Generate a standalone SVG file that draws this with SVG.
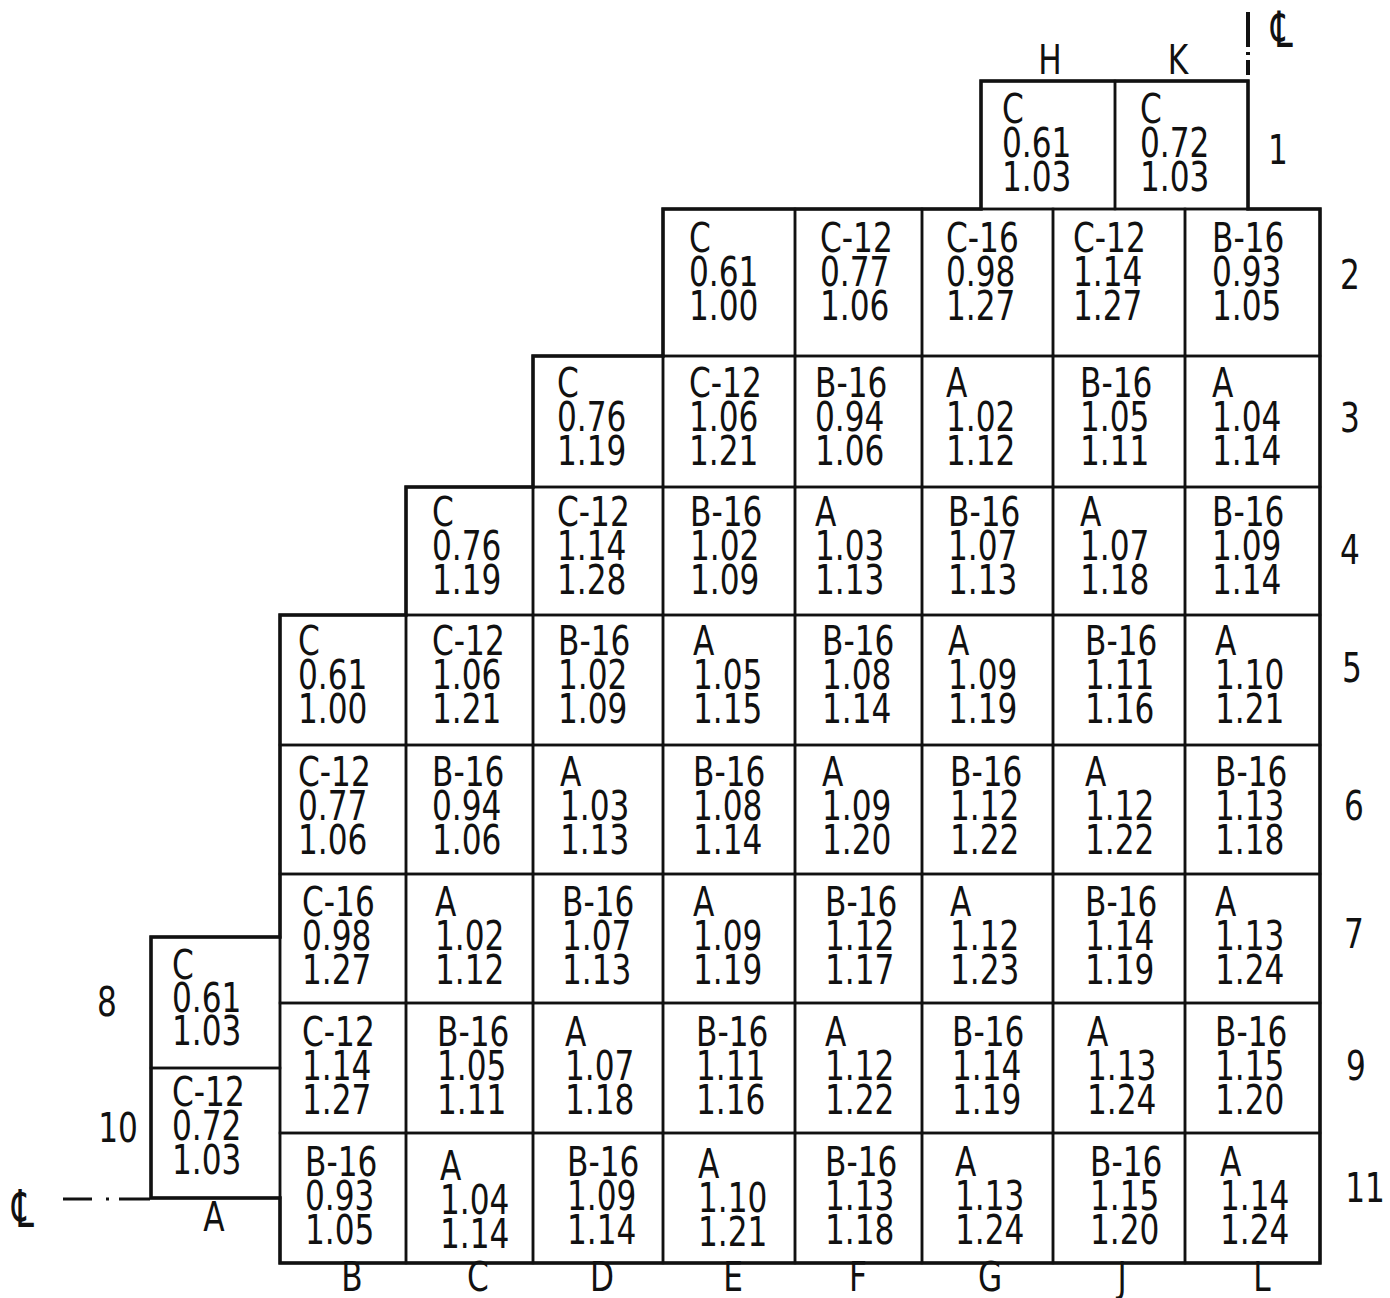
<svg xmlns="http://www.w3.org/2000/svg" width="1390" height="1298" viewBox="0 0 1390 1298">
<style>
.c{fill:none;stroke:#111;stroke-width:2.5}
.o{fill:none;stroke:#111;stroke-width:3.5;stroke-linejoin:miter}
text{font-family:"DejaVu Sans","Liberation Sans",sans-serif;font-size:40px;fill:#111}
.m{text-anchor:middle}
.cl{stroke:#111;fill:none}
</style>
<rect width="1390" height="1298" fill="#fff"/>
<g id="connectors">
<path class="cl" stroke-width="4" d="M1248 12V47M1248 52V55M1248 60V75"/>
<path class="cl" stroke-width="3" d="M63 1199H92M106 1199H109M119 1199H150"/>
</g>
<g id="labels">
<text class="m" transform="translate(1050,74) scale(0.78,1)">H</text>
<text class="m" transform="translate(1178,74) scale(0.78,1)">K</text>
<text class="m" transform="translate(1282,47) scale(0.85,1.25)">℄</text>
<text class="m" transform="translate(23,1227) scale(0.85,1.3)">℄</text>
<text class="m" transform="translate(214,1231) scale(0.78,1)">A</text>
<text class="m" transform="translate(352,1291) scale(0.78,1)">B</text>
<text class="m" transform="translate(478,1291) scale(0.78,1)">C</text>
<text class="m" transform="translate(602,1291) scale(0.78,1)">D</text>
<text class="m" transform="translate(733,1291) scale(0.78,1)">E</text>
<text class="m" transform="translate(858,1291) scale(0.78,1)">F</text>
<text class="m" transform="translate(990,1291) scale(0.78,1)">G</text>
<text class="m" transform="translate(1122,1291) scale(0.78,1)">J</text>
<text class="m" transform="translate(1262,1291) scale(0.78,1)">L</text>
<text class="m" transform="translate(1278,164) scale(0.78,1)">1</text>
<text class="m" transform="translate(1350,289) scale(0.78,1)">2</text>
<text class="m" transform="translate(1350,432) scale(0.78,1)">3</text>
<text class="m" transform="translate(1350,564) scale(0.78,1)">4</text>
<text class="m" transform="translate(1352,682) scale(0.78,1)">5</text>
<text class="m" transform="translate(1354,820) scale(0.78,1)">6</text>
<text class="m" transform="translate(1354,948) scale(0.78,1)">7</text>
<text class="m" transform="translate(1356,1080) scale(0.78,1)">9</text>
<text class="m" transform="translate(1365,1202) scale(0.78,1)">11</text>
<text class="m" transform="translate(107,1016) scale(0.78,1)">8</text>
<text class="m" transform="translate(118,1142) scale(0.78,1)">10</text>
</g>

<g id="H1"><rect class="c" x="981" y="81" width="134" height="128"/><text transform="translate(1002,123) scale(0.78,1)"><tspan x="0" y="0">C</tspan><tspan x="0" y="34">0.61</tspan><tspan x="0" y="68">1.03</tspan></text></g>
<g id="K1"><rect class="c" x="1115" y="81" width="133" height="128"/><text transform="translate(1140,123) scale(0.78,1)"><tspan x="0" y="0">C</tspan><tspan x="0" y="34">0.72</tspan><tspan x="0" y="68">1.03</tspan></text></g>

<g id="E2"><rect class="c" x="663" y="209" width="132" height="147"/><text transform="translate(689,252) scale(0.78,1)"><tspan x="0" y="0">C</tspan><tspan x="0" y="34">0.61</tspan><tspan x="0" y="68">1.00</tspan></text></g>
<g id="F2"><rect class="c" x="795" y="209" width="127" height="147"/><text transform="translate(820,252) scale(0.78,1)"><tspan x="0" y="0">C-12</tspan><tspan x="0" y="34">0.77</tspan><tspan x="0" y="68">1.06</tspan></text></g>
<g id="G2"><rect class="c" x="922" y="209" width="131" height="147"/><text transform="translate(946,252) scale(0.78,1)"><tspan x="0" y="0">C-16</tspan><tspan x="0" y="34">0.98</tspan><tspan x="0" y="68">1.27</tspan></text></g>
<g id="J2"><rect class="c" x="1053" y="209" width="132" height="147"/><text transform="translate(1073,252) scale(0.78,1)"><tspan x="0" y="0">C-12</tspan><tspan x="0" y="34">1.14</tspan><tspan x="0" y="68">1.27</tspan></text></g>
<g id="L2"><rect class="c" x="1185" y="209" width="135" height="147"/><text transform="translate(1212,252) scale(0.78,1)"><tspan x="0" y="0">B-16</tspan><tspan x="0" y="34">0.93</tspan><tspan x="0" y="68">1.05</tspan></text></g>

<g id="D3"><rect class="c" x="533" y="356" width="130" height="131"/><text transform="translate(557,397) scale(0.78,1)"><tspan x="0" y="0">C</tspan><tspan x="0" y="34">0.76</tspan><tspan x="0" y="68">1.19</tspan></text></g>
<g id="E3"><rect class="c" x="663" y="356" width="132" height="131"/><text transform="translate(689,397) scale(0.78,1)"><tspan x="0" y="0">C-12</tspan><tspan x="0" y="34">1.06</tspan><tspan x="0" y="68">1.21</tspan></text></g>
<g id="F3"><rect class="c" x="795" y="356" width="127" height="131"/><text transform="translate(815,397) scale(0.78,1)"><tspan x="0" y="0">B-16</tspan><tspan x="0" y="34">0.94</tspan><tspan x="0" y="68">1.06</tspan></text></g>
<g id="G3"><rect class="c" x="922" y="356" width="131" height="131"/><text transform="translate(946,397) scale(0.78,1)"><tspan x="0" y="0">A</tspan><tspan x="0" y="34">1.02</tspan><tspan x="0" y="68">1.12</tspan></text></g>
<g id="J3"><rect class="c" x="1053" y="356" width="132" height="131"/><text transform="translate(1080,397) scale(0.78,1)"><tspan x="0" y="0">B-16</tspan><tspan x="0" y="34">1.05</tspan><tspan x="0" y="68">1.11</tspan></text></g>
<g id="L3"><rect class="c" x="1185" y="356" width="135" height="131"/><text transform="translate(1212,397) scale(0.78,1)"><tspan x="0" y="0">A</tspan><tspan x="0" y="34">1.04</tspan><tspan x="0" y="68">1.14</tspan></text></g>

<g id="C4"><rect class="c" x="406" y="487" width="127" height="128"/><text transform="translate(432,526) scale(0.78,1)"><tspan x="0" y="0">C</tspan><tspan x="0" y="34">0.76</tspan><tspan x="0" y="68">1.19</tspan></text></g>
<g id="D4"><rect class="c" x="533" y="487" width="130" height="128"/><text transform="translate(557,526) scale(0.78,1)"><tspan x="0" y="0">C-12</tspan><tspan x="0" y="34">1.14</tspan><tspan x="0" y="68">1.28</tspan></text></g>
<g id="E4"><rect class="c" x="663" y="487" width="132" height="128"/><text transform="translate(690,526) scale(0.78,1)"><tspan x="0" y="0">B-16</tspan><tspan x="0" y="34">1.02</tspan><tspan x="0" y="68">1.09</tspan></text></g>
<g id="F4"><rect class="c" x="795" y="487" width="127" height="128"/><text transform="translate(815,526) scale(0.78,1)"><tspan x="0" y="0">A</tspan><tspan x="0" y="34">1.03</tspan><tspan x="0" y="68">1.13</tspan></text></g>
<g id="G4"><rect class="c" x="922" y="487" width="131" height="128"/><text transform="translate(948,526) scale(0.78,1)"><tspan x="0" y="0">B-16</tspan><tspan x="0" y="34">1.07</tspan><tspan x="0" y="68">1.13</tspan></text></g>
<g id="J4"><rect class="c" x="1053" y="487" width="132" height="128"/><text transform="translate(1080,526) scale(0.78,1)"><tspan x="0" y="0">A</tspan><tspan x="0" y="34">1.07</tspan><tspan x="0" y="68">1.18</tspan></text></g>
<g id="L4"><rect class="c" x="1185" y="487" width="135" height="128"/><text transform="translate(1212,526) scale(0.78,1)"><tspan x="0" y="0">B-16</tspan><tspan x="0" y="34">1.09</tspan><tspan x="0" y="68">1.14</tspan></text></g>

<g id="B5"><rect class="c" x="280" y="615" width="126" height="130"/><text transform="translate(298,655) scale(0.78,1)"><tspan x="0" y="0">C</tspan><tspan x="0" y="34">0.61</tspan><tspan x="0" y="68">1.00</tspan></text></g>
<g id="C5"><rect class="c" x="406" y="615" width="127" height="130"/><text transform="translate(432,655) scale(0.78,1)"><tspan x="0" y="0">C-12</tspan><tspan x="0" y="34">1.06</tspan><tspan x="0" y="68">1.21</tspan></text></g>
<g id="D5"><rect class="c" x="533" y="615" width="130" height="130"/><text transform="translate(558,655) scale(0.78,1)"><tspan x="0" y="0">B-16</tspan><tspan x="0" y="34">1.02</tspan><tspan x="0" y="68">1.09</tspan></text></g>
<g id="E5"><rect class="c" x="663" y="615" width="132" height="130"/><text transform="translate(693,655) scale(0.78,1)"><tspan x="0" y="0">A</tspan><tspan x="0" y="34">1.05</tspan><tspan x="0" y="68">1.15</tspan></text></g>
<g id="F5"><rect class="c" x="795" y="615" width="127" height="130"/><text transform="translate(822,655) scale(0.78,1)"><tspan x="0" y="0">B-16</tspan><tspan x="0" y="34">1.08</tspan><tspan x="0" y="68">1.14</tspan></text></g>
<g id="G5"><rect class="c" x="922" y="615" width="131" height="130"/><text transform="translate(948,655) scale(0.78,1)"><tspan x="0" y="0">A</tspan><tspan x="0" y="34">1.09</tspan><tspan x="0" y="68">1.19</tspan></text></g>
<g id="J5"><rect class="c" x="1053" y="615" width="132" height="130"/><text transform="translate(1085,655) scale(0.78,1)"><tspan x="0" y="0">B-16</tspan><tspan x="0" y="34">1.11</tspan><tspan x="0" y="68">1.16</tspan></text></g>
<g id="L5"><rect class="c" x="1185" y="615" width="135" height="130"/><text transform="translate(1215,655) scale(0.78,1)"><tspan x="0" y="0">A</tspan><tspan x="0" y="34">1.10</tspan><tspan x="0" y="68">1.21</tspan></text></g>

<g id="B6"><rect class="c" x="280" y="745" width="126" height="129"/><text transform="translate(298,786) scale(0.78,1)"><tspan x="0" y="0">C-12</tspan><tspan x="0" y="34">0.77</tspan><tspan x="0" y="68">1.06</tspan></text></g>
<g id="C6"><rect class="c" x="406" y="745" width="127" height="129"/><text transform="translate(432,786) scale(0.78,1)"><tspan x="0" y="0">B-16</tspan><tspan x="0" y="34">0.94</tspan><tspan x="0" y="68">1.06</tspan></text></g>
<g id="D6"><rect class="c" x="533" y="745" width="130" height="129"/><text transform="translate(560,786) scale(0.78,1)"><tspan x="0" y="0">A</tspan><tspan x="0" y="34">1.03</tspan><tspan x="0" y="68">1.13</tspan></text></g>
<g id="E6"><rect class="c" x="663" y="745" width="132" height="129"/><text transform="translate(693,786) scale(0.78,1)"><tspan x="0" y="0">B-16</tspan><tspan x="0" y="34">1.08</tspan><tspan x="0" y="68">1.14</tspan></text></g>
<g id="F6"><rect class="c" x="795" y="745" width="127" height="129"/><text transform="translate(822,786) scale(0.78,1)"><tspan x="0" y="0">A</tspan><tspan x="0" y="34">1.09</tspan><tspan x="0" y="68">1.20</tspan></text></g>
<g id="G6"><rect class="c" x="922" y="745" width="131" height="129"/><text transform="translate(950,786) scale(0.78,1)"><tspan x="0" y="0">B-16</tspan><tspan x="0" y="34">1.12</tspan><tspan x="0" y="68">1.22</tspan></text></g>
<g id="J6"><rect class="c" x="1053" y="745" width="132" height="129"/><text transform="translate(1085,786) scale(0.78,1)"><tspan x="0" y="0">A</tspan><tspan x="0" y="34">1.12</tspan><tspan x="0" y="68">1.22</tspan></text></g>
<g id="L6"><rect class="c" x="1185" y="745" width="135" height="129"/><text transform="translate(1215,786) scale(0.78,1)"><tspan x="0" y="0">B-16</tspan><tspan x="0" y="34">1.13</tspan><tspan x="0" y="68">1.18</tspan></text></g>

<g id="B7"><rect class="c" x="280" y="874" width="126" height="129"/><text transform="translate(302,916) scale(0.78,1)"><tspan x="0" y="0">C-16</tspan><tspan x="0" y="34">0.98</tspan><tspan x="0" y="68">1.27</tspan></text></g>
<g id="C7"><rect class="c" x="406" y="874" width="127" height="129"/><text transform="translate(435,916) scale(0.78,1)"><tspan x="0" y="0">A</tspan><tspan x="0" y="34">1.02</tspan><tspan x="0" y="68">1.12</tspan></text></g>
<g id="D7"><rect class="c" x="533" y="874" width="130" height="129"/><text transform="translate(562,916) scale(0.78,1)"><tspan x="0" y="0">B-16</tspan><tspan x="0" y="34">1.07</tspan><tspan x="0" y="68">1.13</tspan></text></g>
<g id="E7"><rect class="c" x="663" y="874" width="132" height="129"/><text transform="translate(693,916) scale(0.78,1)"><tspan x="0" y="0">A</tspan><tspan x="0" y="34">1.09</tspan><tspan x="0" y="68">1.19</tspan></text></g>
<g id="F7"><rect class="c" x="795" y="874" width="127" height="129"/><text transform="translate(825,916) scale(0.78,1)"><tspan x="0" y="0">B-16</tspan><tspan x="0" y="34">1.12</tspan><tspan x="0" y="68">1.17</tspan></text></g>
<g id="G7"><rect class="c" x="922" y="874" width="131" height="129"/><text transform="translate(950,916) scale(0.78,1)"><tspan x="0" y="0">A</tspan><tspan x="0" y="34">1.12</tspan><tspan x="0" y="68">1.23</tspan></text></g>
<g id="J7"><rect class="c" x="1053" y="874" width="132" height="129"/><text transform="translate(1085,916) scale(0.78,1)"><tspan x="0" y="0">B-16</tspan><tspan x="0" y="34">1.14</tspan><tspan x="0" y="68">1.19</tspan></text></g>
<g id="L7"><rect class="c" x="1185" y="874" width="135" height="129"/><text transform="translate(1215,916) scale(0.78,1)"><tspan x="0" y="0">A</tspan><tspan x="0" y="34">1.13</tspan><tspan x="0" y="68">1.24</tspan></text></g>

<g id="A8"><rect class="c" x="151" y="937" width="129" height="131"/><text transform="translate(172,979) scale(0.78,1)"><tspan x="0" y="0">C</tspan><tspan x="0" y="33">0.61</tspan><tspan x="0" y="66">1.03</tspan></text></g>
<g id="A10"><rect class="c" x="151" y="1068" width="129" height="130"/><text transform="translate(172,1106) scale(0.78,1)"><tspan x="0" y="0">C-12</tspan><tspan x="0" y="34">0.72</tspan><tspan x="0" y="68">1.03</tspan></text></g>

<g id="B9"><rect class="c" x="280" y="1003" width="126" height="130"/><text transform="translate(302,1046) scale(0.78,1)"><tspan x="0" y="0">C-12</tspan><tspan x="0" y="34">1.14</tspan><tspan x="0" y="68">1.27</tspan></text></g>
<g id="C9"><rect class="c" x="406" y="1003" width="127" height="130"/><text transform="translate(437,1046) scale(0.78,1)"><tspan x="0" y="0">B-16</tspan><tspan x="0" y="34">1.05</tspan><tspan x="0" y="68">1.11</tspan></text></g>
<g id="D9"><rect class="c" x="533" y="1003" width="130" height="130"/><text transform="translate(565,1046) scale(0.78,1)"><tspan x="0" y="0">A</tspan><tspan x="0" y="34">1.07</tspan><tspan x="0" y="68">1.18</tspan></text></g>
<g id="E9"><rect class="c" x="663" y="1003" width="132" height="130"/><text transform="translate(696,1046) scale(0.78,1)"><tspan x="0" y="0">B-16</tspan><tspan x="0" y="34">1.11</tspan><tspan x="0" y="68">1.16</tspan></text></g>
<g id="F9"><rect class="c" x="795" y="1003" width="127" height="130"/><text transform="translate(825,1046) scale(0.78,1)"><tspan x="0" y="0">A</tspan><tspan x="0" y="34">1.12</tspan><tspan x="0" y="68">1.22</tspan></text></g>
<g id="G9"><rect class="c" x="922" y="1003" width="131" height="130"/><text transform="translate(952,1046) scale(0.78,1)"><tspan x="0" y="0">B-16</tspan><tspan x="0" y="34">1.14</tspan><tspan x="0" y="68">1.19</tspan></text></g>
<g id="J9"><rect class="c" x="1053" y="1003" width="132" height="130"/><text transform="translate(1087,1046) scale(0.78,1)"><tspan x="0" y="0">A</tspan><tspan x="0" y="34">1.13</tspan><tspan x="0" y="68">1.24</tspan></text></g>
<g id="L9"><rect class="c" x="1185" y="1003" width="135" height="130"/><text transform="translate(1215,1046) scale(0.78,1)"><tspan x="0" y="0">B-16</tspan><tspan x="0" y="34">1.15</tspan><tspan x="0" y="68">1.20</tspan></text></g>

<g id="B11"><rect class="c" x="280" y="1133" width="126" height="130"/><text transform="translate(305,1176) scale(0.78,1)"><tspan x="0" y="0">B-16</tspan><tspan x="0" y="34">0.93</tspan><tspan x="0" y="68">1.05</tspan></text></g>
<g id="C11"><rect class="c" x="406" y="1133" width="127" height="130"/><text transform="translate(440,1180) scale(0.78,1)"><tspan x="0" y="0">A</tspan><tspan x="0" y="34">1.04</tspan><tspan x="0" y="68">1.14</tspan></text></g>
<g id="D11"><rect class="c" x="533" y="1133" width="130" height="130"/><text transform="translate(567,1176) scale(0.78,1)"><tspan x="0" y="0">B-16</tspan><tspan x="0" y="34">1.09</tspan><tspan x="0" y="68">1.14</tspan></text></g>
<g id="E11"><rect class="c" x="663" y="1133" width="132" height="130"/><text transform="translate(698,1178) scale(0.78,1)"><tspan x="0" y="0">A</tspan><tspan x="0" y="34">1.10</tspan><tspan x="0" y="68">1.21</tspan></text></g>
<g id="F11"><rect class="c" x="795" y="1133" width="127" height="130"/><text transform="translate(825,1176) scale(0.78,1)"><tspan x="0" y="0">B-16</tspan><tspan x="0" y="34">1.13</tspan><tspan x="0" y="68">1.18</tspan></text></g>
<g id="G11"><rect class="c" x="922" y="1133" width="131" height="130"/><text transform="translate(955,1176) scale(0.78,1)"><tspan x="0" y="0">A</tspan><tspan x="0" y="34">1.13</tspan><tspan x="0" y="68">1.24</tspan></text></g>
<g id="J11"><rect class="c" x="1053" y="1133" width="132" height="130"/><text transform="translate(1090,1176) scale(0.78,1)"><tspan x="0" y="0">B-16</tspan><tspan x="0" y="34">1.15</tspan><tspan x="0" y="68">1.20</tspan></text></g>
<g id="L11"><rect class="c" x="1185" y="1133" width="135" height="130"/><text transform="translate(1220,1176) scale(0.78,1)"><tspan x="0" y="0">A</tspan><tspan x="0" y="34">1.14</tspan><tspan x="0" y="68">1.24</tspan></text></g>

<g id="outline">
<path class="o" d="M981 81H1248V209H1320V1263H280V1198H151V937H280V615H406V487H533V356H663V209H981Z"/>
</g>
</svg>
